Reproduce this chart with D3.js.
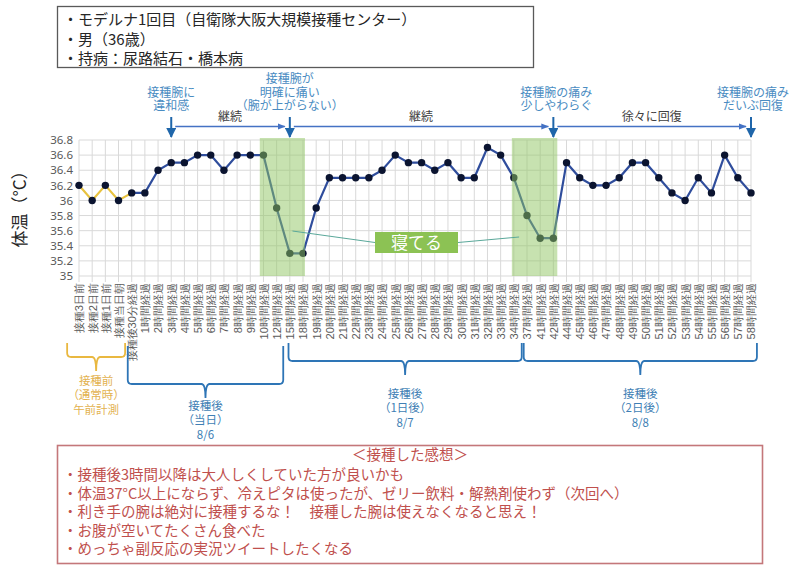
<!DOCTYPE html>
<html><head><meta charset="utf-8">
<script src="https://cdn.jsdelivr.net/npm/d3@7"></script>
<style>
html,body{margin:0;padding:0;background:#fff;}
svg{display:block;font-family:"Noto Sans CJK JP","Noto Sans",sans-serif;}
</style></head>
<body>
<svg id="c" width="800" height="586"></svg>
<script>
const categories = ["接種3日前","接種2日前","接種1日前","接種当日朝","接種後30分経過",
 "1時間経過","2時間経過","3時間経過","4時間経過","5時間経過","6時間経過","7時間経過","8時間経過","9時間経過","10時間経過",
 "12時間経過","15時間経過","18時間経過","19時間経過","20時間経過","21時間経過","22時間経過","23時間経過","24時間経過",
 "25時間経過","26時間経過","27時間経過","28時間経過","29時間経過","30時間経過","31時間経過","32時間経過","33時間経過","34時間経過",
 "37時間経過","41時間経過","42時間経過","44時間経過","45時間経過","46時間経過","47時間経過","48時間経過","49時間経過","50時間経過",
 "51時間経過","52時間経過","53時間経過","54時間経過","55時間経過","56時間経過","57時間経過","58時間経過"];
const temps = [36.2,36.0,36.2,36.0,36.1,
 36.1,36.4,36.5,36.5,36.6,36.6,36.4,36.6,36.6,36.6,
 35.9,35.3,35.3,35.9,36.3,36.3,36.3,36.3,36.4,
 36.6,36.5,36.5,36.4,36.5,36.3,36.3,36.7,36.6,36.3,
 35.8,35.5,35.5,36.5,36.3,36.2,36.2,36.3,36.5,36.5,
 36.3,36.1,36.0,36.3,36.1,36.6,36.3,36.1];
const preCount = 5;              // first points (before vaccination) drawn in yellow, incl. joint
const yTicks = [35,35.2,35.4,35.6,35.8,36,36.2,36.4,36.6,36.8];
const sleepSpans = [[13.72,17.15],[32.85,36.3]];   // in category units
const events = [
 {idx:7,  lines:["接種腕に","違和感"]},
 {idx:16, lines:["接種腕が","明確に痛い","（腕が上がらない）"]},
 {idx:36, lines:["接種腕の痛み","少しやわらぐ"]},
 {idx:51, lines:["接種腕の痛み","だいぶ回復"]}
];
const phaseLabels = ["継続","継続","徐々に回復"];
const braces = [
 {from:-0.9, to:3.5,  color:"#e9b840", text:["接種前","（通常時）","午前計測"]},
 {from:3.7,  to:15.5, color:"#2e75b6", text:["接種後","（当日）","8/6"]},
 {from:15.9, to:33.6, color:"#2e75b6", text:["接種後","（1日後）","8/7"]},
 {from:33.75,to:51.45,color:"#2e75b6", text:["接種後","（2日後）","8/8"]}
];
const headerLines = ["・モデルナ1回目（自衛隊大阪大規模接種センター）","・男（36歳）","・持病：尿路結石・橋本病"];
const noteTitle = "＜接種した感想＞";
const noteLines = ["・接種後3時間以降は大人しくしていた方が良いかも",
 "・体温37°C以上にならず、冷えピタは使ったが、ゼリー飲料・解熱剤使わず（次回へ）",
 "・利き手の腕は絶対に接種するな！　接種した腕は使えなくなると思え！",
 "・お腹が空いてたくさん食べた",
 "・めっちゃ副反応の実況ツイートしたくなる"];
const sleepLabel = "寝てる";

const svg = d3.select("#c");
const L=79, R=751, T=140, B=276;
const x = d3.scalePoint().domain(d3.range(categories.length)).range([L,R]);
const step = x.step();
const xc = v => L + v*step;
const y = d3.scaleLinear().domain([35,36.8]).range([B,T]);

function multiline(sel, lines, lh){
  lines.forEach((t,k)=>sel.append("tspan").attr("x",sel.attr("x")).attr("dy",k===0?"0.35em":lh).text(t));
  return sel;
}

// header box
svg.append("rect").attr("x",57.5).attr("y",6.5).attr("width",476).attr("height",61)
  .attr("fill","#fff").attr("stroke","#595959").attr("stroke-width",1.3);
multiline(svg.append("text").attr("x",63).attr("y",20).attr("font-size",15).attr("fill","#262626"), headerLines, 19.5);

// grid
const g = svg.append("g");
g.selectAll("line.v").data(d3.range(categories.length)).join("line")
  .attr("x1",d=>x(d)).attr("x2",d=>x(d)).attr("y1",T).attr("y2",B+6)
  .attr("stroke","#d9d9d9").attr("stroke-width",1);
g.selectAll("line.h").data(yTicks).join("line")
  .attr("x1",L).attr("x2",R).attr("y1",d=>y(d)).attr("y2",d=>y(d))
  .attr("stroke","#d9d9d9").attr("stroke-width",1);

// y axis labels
const yAxis = d3.axisLeft(y).tickValues(yTicks).tickSize(0).tickPadding(6).tickFormat(d=>d3.format("")(+d.toFixed(1)));
const ya = svg.append("g").attr("transform",`translate(${L},0)`).call(yAxis);
ya.select(".domain").remove();
ya.selectAll("text").attr("font-size",11.5).attr("fill","#595959").attr("font-family","Noto Sans, sans-serif");

svg.append("text").attr("transform","translate(26,205) rotate(-90)").attr("text-anchor","middle")
  .attr("font-size",17).attr("fill","#262626").text("体温（°C）");

// x axis labels
const xAxis = d3.axisBottom(x).tickSize(0).tickFormat(i=>categories[i]);
const xa = svg.append("g").attr("transform",`translate(0,${B})`).call(xAxis);
xa.select(".domain").remove();
xa.selectAll("text").attr("font-size",11.2).attr("fill","#595959")
  .attr("text-anchor","end").attr("dy","0.35em")
  .attr("transform","translate(0,7) rotate(-90)").attr("x",0).attr("y",0);

// lines
const line = d3.line().x(d=>x(d.i)).y(d=>y(d.v));
const pts = temps.map((v,i)=>({i,v}));
svg.append("path").datum(pts.slice(0,preCount)).attr("d",line).attr("fill","none")
  .attr("stroke","#e8c23e").attr("stroke-width",2.2);
svg.append("path").datum(pts.slice(preCount-1)).attr("d",line).attr("fill","none")
  .attr("stroke","#2f4d9c").attr("stroke-width",2.2);
svg.selectAll("circle.m").data(pts).join("circle")
  .attr("cx",d=>x(d.i)).attr("cy",d=>y(d.v)).attr("r",3.7).attr("fill","#0b1430");

// sleep bands (overlay)
svg.selectAll("rect.s").data(sleepSpans).join("rect")
  .attr("x",d=>xc(d[0])).attr("width",d=>xc(d[1])-xc(d[0])).attr("y",T-2).attr("height",B-T+2)
  .attr("fill","#8fc561").attr("opacity",0.5);

// sleep label + connectors
const lbX=375, lbW=83, lbY=232, lbH=21;
svg.append("line").attr("x1",xc(16.2)).attr("y1",231).attr("x2",lbX).attr("y2",lbY+lbH/2)
  .attr("stroke","#5aa89a").attr("stroke-width",1);
svg.append("line").attr("x1",lbX+lbW).attr("y1",lbY+lbH/2).attr("x2",xc(33.4)).attr("y2",237)
  .attr("stroke","#5aa89a").attr("stroke-width",1);
svg.append("rect").attr("x",lbX).attr("y",lbY).attr("width",lbW).attr("height",lbH).attr("fill","#8cc254");
svg.append("text").attr("x",lbX+lbW/2).attr("y",lbY+lbH/2).attr("dy","0.36em").attr("text-anchor","middle")
  .attr("font-size",17).attr("fill","#fff").text(sleepLabel);

// event arrows
const defs = svg.append("defs");
defs.append("marker").attr("id","ah").attr("viewBox","0 0 10 10").attr("refX",9).attr("refY",5)
  .attr("markerWidth",5).attr("markerHeight",5).attr("orient","auto")
  .append("path").attr("d","M0,0L10,5L0,10z").attr("fill","#1f66aa");
defs.append("marker").attr("id","ah2").attr("viewBox","0 0 10 10").attr("refX",9).attr("refY",5)
  .attr("markerWidth",6).attr("markerHeight",6).attr("orient","auto")
  .append("path").attr("d","M0,1L10,5L0,9z").attr("fill","#4472c4");
events.forEach(e=>{
  const ex = x(e.idx);
  svg.append("line").attr("x1",ex).attr("x2",ex).attr("y1",117).attr("y2",137)
    .attr("stroke","#1f66aa").attr("stroke-width",2).attr("marker-end","url(#ah)");
  const n = e.lines.length;
  const tx = e.idx===51?ex+2:(e.idx===36?ex+3:ex);
  multiline(svg.append("text").attr("x",tx).attr("y",106-(n-1)*13.5).attr("text-anchor","middle")
    .attr("font-size",12).attr("fill","#4a8cc2"), e.lines, 13.5);
});
for(let k=0;k<events.length-1;k++){
  const a=x(events[k].idx)+4, b=x(events[k+1].idx)-5;
  svg.append("line").attr("x1",a).attr("x2",b).attr("y1",126.5).attr("y2",126.5)
    .attr("stroke","#4472c4").attr("stroke-width",1.3).attr("marker-end","url(#ah2)");
  svg.append("text").attr("x",(a+b)/2).attr("y",117).attr("dy","0.35em").attr("text-anchor","middle")
    .attr("font-size",12).attr("fill","#404040").text(phaseLabels[k]);
}

// braces
braces.forEach((b,i)=>{
  const x1=xc(b.from), x2=xc(b.to), xm=(x1+x2)/2;
  const y0 = i===0?343:(i===1?346:343), yh = i===0?357:(i===1?384:361), yt = yh+14;
  const r=4;
  const p = `M${x1},${y0} L${x1},${yh-r} Q${x1},${yh} ${x1+r},${yh} L${xm-r},${yh} Q${xm},${yh} ${xm},${yt} Q${xm},${yh} ${xm+r},${yh} L${x2-r},${yh} Q${x2},${yh} ${x2},${yh-r} L${x2},${y0}`;
  svg.append("path").attr("d",p).attr("fill","none").attr("stroke",b.color).attr("stroke-width",1.8);
  const ty0 = i===0?381:(i===1?406:394);
  multiline(svg.append("text").attr("x",xm).attr("y",ty0).attr("text-anchor","middle")
    .attr("font-size",11.5).attr("fill",i===0?"#e3b24f":"#3f7fb5"), b.text, 14.3);
});

// notes box
svg.append("rect").attr("x",57.5).attr("y",445.5).attr("width",705).attr("height",118)
  .attr("fill","#fff").attr("stroke","#c4777a").attr("stroke-width",1.6);
const nt = svg.append("text").attr("x",63).attr("y",455).attr("font-size",14.5).attr("fill","#c0504d");
nt.append("tspan").attr("x",410).attr("dy","0.35em").attr("text-anchor","middle").text(noteTitle);
noteLines.forEach((t,i)=>nt.append("tspan").attr("x",63).attr("dy",i===0?20:18.5).attr("text-anchor","start").text(t));
</script>
</body></html>
